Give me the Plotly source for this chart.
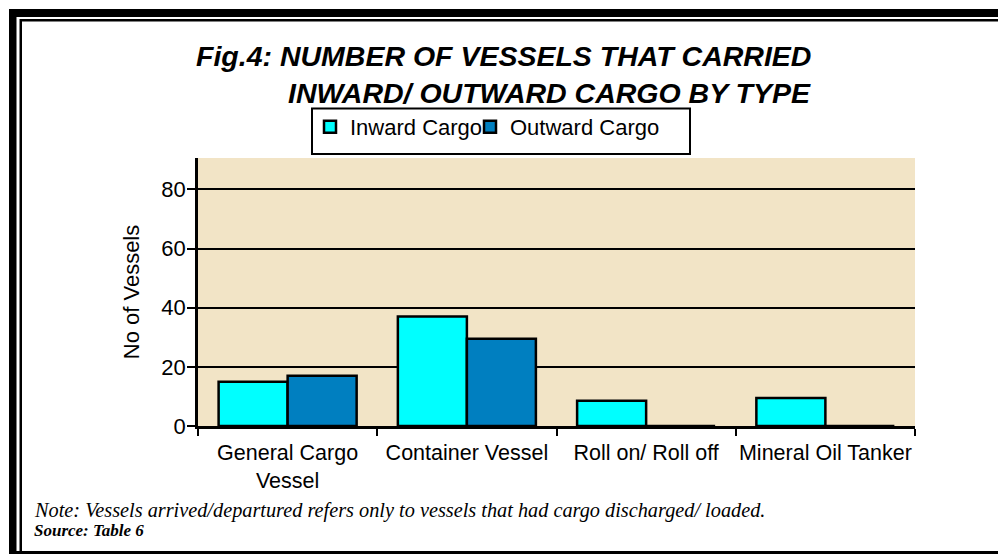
import plotly.graph_objects as go

categories = ["General Cargo<br>Vessel", "Container Vessel", "Roll on/ Roll off", "Mineral Oil Tanker"]
inward = [15, 37, 8.5, 9.5]
outward = [17, 29.5, 0, 0]
series_names = ["Inward Cargo", "Outward Cargo"]
y_ticks = [0, 20, 40, 60, 80]

# page has an 8px body margin; lay out in page pixels and convert
OFF = 8
W, H = 1006 - OFF, 554 - OFF
L, T = 198 - OFF, 158 - OFF
R = W - (915 - OFF)
B = H - (426 - OFF)
PW, PH = W - L - R, H - T - B


def px_x(p):
    return (p - OFF - L) / PW


def px_y(p):
    return (H - B - (p - OFF)) / PH


SANS = "Liberation Sans, Arial, sans-serif"
SERIF = "Liberation Serif, Times New Roman, serif"

fig = go.Figure()
fig.add_trace(go.Bar(x=categories, y=inward, name=series_names[0], legend="legend",
                     marker=dict(color="#00FFFF", line=dict(color="black", width=2.5))))
fig.add_trace(go.Bar(x=categories, y=outward, name=series_names[1], legend="legend2",
                     marker=dict(color="#007FC0", line=dict(color="black", width=2.5))))

shapes = []
# legend box
shapes.append(dict(type="rect", xref="paper", yref="paper",
                   x0=px_x(312), x1=px_x(690), y0=px_y(154), y1=px_y(108.5),
                   line=dict(color="black", width=2), fillcolor="white", layer="below"))
# frame
for (x0, x1, y0, y1) in [(9, 1006, 9, 17), (20, 1006, 19, 21.5), (9, 16.5, 9, 554),
                         (19.5, 22, 19, 554), (9, 1006, 551, 554)]:
    shapes.append(dict(type="rect", xref="paper", yref="paper",
                       x0=px_x(x0), x1=px_x(x1), y0=px_y(y1), y1=px_y(y0),
                       line=dict(width=0), fillcolor="black"))

annotations = [
    dict(text="<b><i>Fig.4: NUMBER OF VESSELS THAT CARRIED</i></b>", xref="paper", yref="paper",
         x=px_x(813), y=px_y(56), xanchor="right", yanchor="middle", showarrow=False,
         font=dict(family=SANS, size=28.5, color="black")),
    dict(text="<b><i>INWARD/ OUTWARD CARGO BY TYPE</i></b>", xref="paper", yref="paper",
         x=px_x(813), y=px_y(92.5), xanchor="right", yanchor="middle", showarrow=False,
         font=dict(family=SANS, size=28.5, color="black")),
    dict(text="<i>Note: Vessels arrived/departured refers only to vessels that had cargo discharged/ loaded.</i>",
         xref="paper", yref="paper", x=px_x(32), y=px_y(510), xanchor="left", yanchor="middle",
         showarrow=False, font=dict(family=SERIF, size=20.3, color="black")),
    dict(text="<b><i>Source: Table 6</i></b>", xref="paper", yref="paper",
         x=px_x(32), y=px_y(530), xanchor="left", yanchor="middle", showarrow=False,
         font=dict(family=SERIF, size=17, color="black")),
]

leg_common = dict(orientation="h", xanchor="left", yanchor="top", bgcolor="rgba(0,0,0,0)",
                  borderwidth=0, font=dict(family=SANS, size=22, color="black"), itemwidth=30)

fig.update_layout(
    width=W, height=H,
    margin=dict(l=L, r=R, t=T, b=B, autoexpand=False),
    paper_bgcolor="white",
    plot_bgcolor="#F2E4C6",
    font=dict(family=SANS, size=22, color="black"),
    barmode="group", bargap=0.23, bargroupgap=0,
    showlegend=True,
    legend=dict(x=px_x(310), y=px_y(106), **leg_common),
    legend2=dict(x=px_x(470), y=px_y(106), **leg_common),
    shapes=shapes,
    annotations=annotations,
)
fig.update_xaxes(showline=True, linecolor="black", linewidth=2.5, ticks="outside",
                 tickson="boundaries", ticklen=7, tickwidth=2, tickcolor="black",
                 ticklabelstandoff=5, tickangle=0,
                 tickfont=dict(family=SANS, size=21.5), showgrid=False)
fig.update_yaxes(range=[0, 90.6], tickvals=y_ticks, showline=True, linecolor="black", linewidth=2.5,
                 ticks="outside", ticklen=8, tickwidth=2, tickcolor="black",
                 ticklabelstandoff=-3,
                 showgrid=True, gridcolor="black", gridwidth=2, zeroline=False,
                 tickfont=dict(family=SANS, size=22),
                 title=dict(text="No of Vessels", font=dict(family=SANS, size=22), standoff=16))

fig.write_html("out.html")
